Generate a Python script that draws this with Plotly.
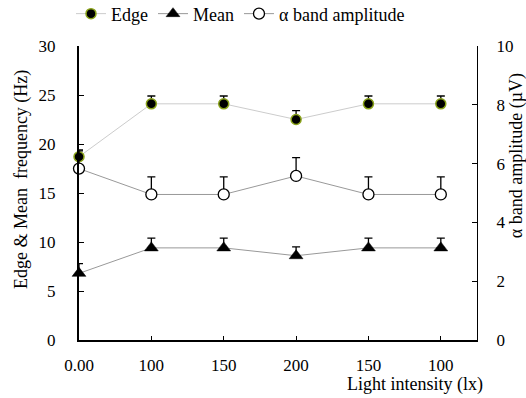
import plotly.graph_objects as go

categories = ["0.00", "100", "150", "200", "150", "100"]
edge = [18.7, 24.1, 24.1, 22.5, 24.1, 24.1]
edge_err = [0.7, 0.8, 0.8, 0.9, 0.8, 0.8]
mean = [6.8, 9.4, 9.4, 8.6, 9.4, 9.4]
mean_err = [1.0, 1.0, 1.0, 0.9, 1.0, 1.0]
alpha = [5.83, 4.95, 4.95, 5.58, 4.95, 4.95]
alpha_err = [0.6, 0.6, 0.6, 0.62, 0.6, 0.6]

xs = list(range(len(categories)))
FONT = "Times New Roman, Liberation Serif, serif"

def errs(e):
    return dict(type="data", symmetric=False, array=e, arrayminus=[0] * len(e),
                color="black", thickness=1.3, width=4)

fig = go.Figure()
fig.add_trace(go.Scatter(
    x=xs, y=edge, name="Edge", mode="lines+markers", cliponaxis=False,
    line=dict(color="#cccccc", width=1),
    marker=dict(symbol="circle", size=10, color="black", line=dict(color="#8aa31a", width=1.5)),
    error_y=errs(edge_err)))
fig.add_trace(go.Scatter(
    x=xs, y=mean, name="Mean", mode="lines+markers", cliponaxis=False,
    line=dict(color="#999999", width=1),
    marker=dict(symbol="triangle-up", size=12, color="black", line=dict(color="black", width=0.5)),
    error_y=errs(mean_err)))
fig.add_trace(go.Scatter(
    x=xs, y=alpha, name="α band amplitude", mode="lines+markers", cliponaxis=False, yaxis="y2",
    line=dict(color="#999999", width=1),
    marker=dict(symbol="circle", size=11, color="white", line=dict(color="black", width=1.3)),
    error_y=errs(alpha_err)))

fig.update_layout(
    width=526, height=398,
    margin=dict(l=79, r=49, t=46, b=58, autoexpand=False),
    paper_bgcolor="white", plot_bgcolor="white",
    font=dict(family=FONT, size=17, color="black"),
    showlegend=True,
    legend=dict(orientation="h", x=0.135, xanchor="left", xref="container",
                y=0.965, yanchor="middle", yref="container", font=dict(family=FONT, size=18),
                itemwidth=30, tracegroupgap=0, bgcolor="rgba(0,0,0,0)"),
    xaxis=dict(range=[0, 5.5], tickvals=xs, ticktext=categories, showgrid=False, zeroline=False,
               showline=True, linecolor="black", linewidth=2, ticks="inside", ticklen=4,
               tickcolor="black", tickfont=dict(family=FONT, size=17), ticklabelstandoff=9),
    yaxis=dict(range=[0, 30], dtick=5, showgrid=False, zeroline=False, showline=True,
               linecolor="black", linewidth=2, ticks="inside", ticklen=5, tickcolor="black",
               tickfont=dict(family=FONT, size=17), ticklabelstandoff=18),
    yaxis2=dict(range=[0, 10], dtick=2, overlaying="y", side="right", showgrid=False, zeroline=False,
                showline=True, linecolor="black", linewidth=1, ticks="inside", ticklen=5,
                tickcolor="black", tickfont=dict(family=FONT, size=17), ticklabelstandoff=15),
    annotations=[
        dict(text="Light intensity (lx)", xref="paper", yref="paper", x=1.02, y=-0.153,
             xanchor="right", yanchor="middle", showarrow=False, font=dict(family=FONT, size=18)),
        dict(text="Edge & Mean  frequency (Hz)", xref="paper", yref="paper", x=-0.145, y=0.545,
             xanchor="center", yanchor="middle", textangle=-90, showarrow=False,
             font=dict(family=FONT, size=18)),
        dict(text="α band amplitude (µV)", xref="paper", yref="paper", x=1.098, y=0.625,
             xanchor="center", yanchor="middle", textangle=-90, showarrow=False,
             font=dict(family=FONT, size=18)),
    ],
)

fig.write_html("out.html")
